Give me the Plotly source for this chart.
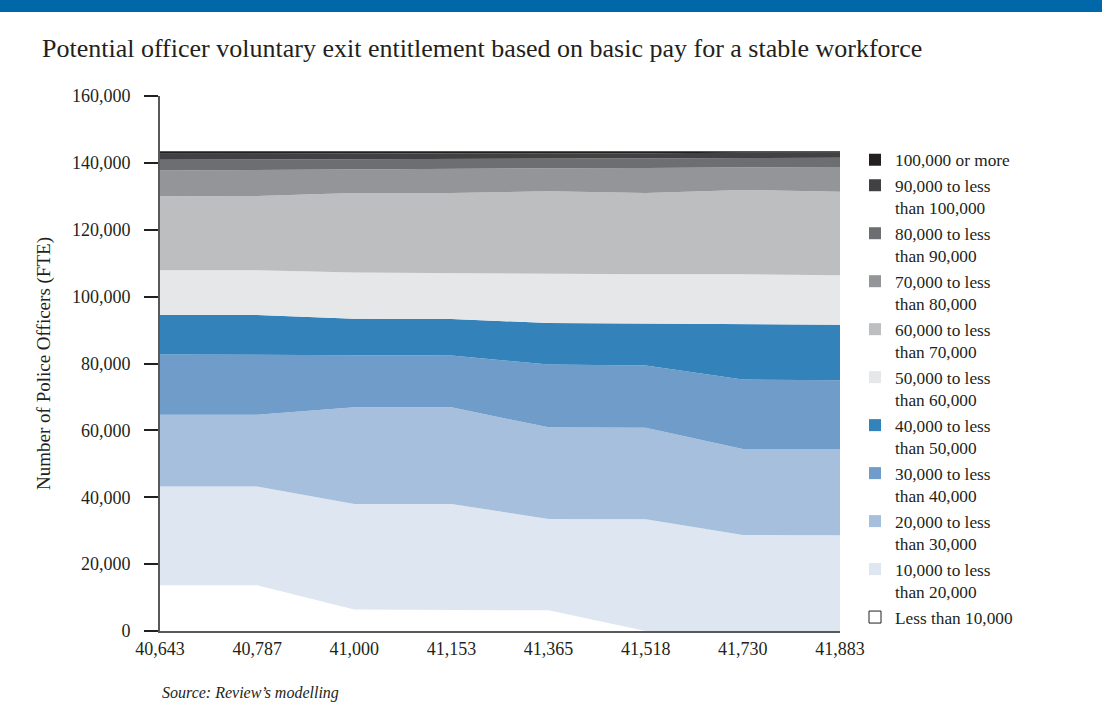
import plotly.graph_objects as go

# Potential officer voluntary exit entitlement (stacked, number of officers FTE)
workforce = ["40,643", "40,787", "41,000", "41,153", "41,365", "41,518", "41,730", "41,883"]

band_names = [
    "Less than 10,000",
    "10,000 to less<br>than 20,000",
    "20,000 to less<br>than 30,000",
    "30,000 to less<br>than 40,000",
    "40,000 to less<br>than 50,000",
    "50,000 to less<br>than 60,000",
    "60,000 to less<br>than 70,000",
    "70,000 to less<br>than 80,000",
    "80,000 to less<br>than 90,000",
    "90,000 to less<br>than 100,000",
    "100,000 or more",
]

lt_10k = [13700, 13700, 6400, 6400, 6200, 0, 0, 0]
k10_20 = [29500, 29500, 31600, 31600, 27300, 33400, 28700, 28600]
k20_30 = [21500, 21500, 28900, 28900, 27400, 27400, 25700, 25800]
k30_40 = [18000, 18000, 15600, 15500, 18800, 18600, 20800, 20600]
k40_50 = [11800, 11800, 10900, 10900, 12400, 12500, 16500, 16600]
k50_60 = [13400, 13400, 13800, 13700, 14600, 14800, 15000, 14800]
k60_70 = [22100, 22200, 23800, 24000, 24800, 24300, 25200, 25000]
k70_80 = [7700, 7800, 7200, 7200, 6900, 7500, 6700, 7400]
k80_90 = [3200, 3100, 2900, 3000, 3000, 3000, 3000, 2700]
k90_100 = [1800, 1700, 1700, 1600, 1500, 1400, 1400, 1500]
k100_plus = [800, 800, 700, 700, 600, 600, 500, 500]

series = [lt_10k, k10_20, k20_30, k30_40, k40_50, k50_60,
          k60_70, k70_80, k80_90, k90_100, k100_plus]

colors = ["#ffffff", "#dee6f1", "#a5bfdd", "#6f9cc9", "#3482ba", "#e6e7e8",
          "#bcbec0", "#939598", "#6d6e71", "#414042", "#231f20"]

x_pos = list(range(len(workforce)))
serif = "Liberation Serif, Times New Roman, serif"
txt = "#231f20"

fig = go.Figure()

for name, vals, col in zip(band_names, series, colors):
    fig.add_trace(go.Scatter(
        x=x_pos, y=vals, name=name, stackgroup="one", mode="lines",
        line=dict(width=0, color=col), fillcolor=col, showlegend=False,
        hoverinfo="skip"
    ))

# legend entries as small squares
for name, col in zip(band_names, colors):
    fig.add_trace(go.Scatter(
        x=[None], y=[None], name=name, mode="markers",
        marker=dict(symbol="square", size=12, color=col,
                    line=dict(width=1 if col == "#ffffff" else 0, color=txt)),
        hoverinfo="skip"
    ))

# top blue band
pw, ph = 680, 535
fig.add_shape(type="rect", xref="paper", yref="paper",
              x0=-160 / pw, x1=(1102 - 160) / pw,
              y0=(631 - 12) / ph, y1=631 / ph,
              fillcolor="#0067a8", line_width=0, layer="above")

fig.add_annotation(
    xref="paper", yref="paper", x=(40 - 160) / pw, y=(631 - 48) / ph,
    text="Potential officer voluntary exit entitlement based on basic pay for a stable workforce",
    showarrow=False, xanchor="left", yanchor="middle",
    font=dict(family=serif, size=26, color=txt)
)

fig.add_annotation(
    xref="paper", yref="paper", x=0, y=(631 - 693) / ph,
    text="<i>Source: Review\u2019s modelling</i>",
    showarrow=False, xanchor="left", yanchor="middle",
    font=dict(family=serif, size=16, color=txt)
)

fig.update_layout(
    width=1102, height=724,
    margin=dict(l=160, r=262, t=96, b=93, autoexpand=False),
    paper_bgcolor="white", plot_bgcolor="white",
    hovermode=False,
    font=dict(family=serif, size=17, color=txt),
    legend=dict(
        x=(855 - 160) / pw, xanchor="left",
        y=(631 - 142) / ph, yanchor="top",
        traceorder="reversed", valign="top",
        font=dict(family=serif, size=17.3, color=txt),
        bgcolor="rgba(0,0,0,0)",
        itemclick=False, itemdoubleclick=False,
    ),
)

fig.update_xaxes(
    range=[0, len(workforce) - 1],
    tickvals=x_pos, ticktext=workforce,
    showgrid=False, zeroline=False,
    showline=True, linecolor="#58595b", linewidth=2,
    ticks="", tickfont=dict(family=serif, size=18, color=txt),
)

fig.update_yaxes(
    range=[0, 160000],
    tickvals=list(range(0, 160001, 20000)), tickformat=",",
    showgrid=False, zeroline=False,
    showline=True, linecolor="#58595b", linewidth=2,
    ticks="outside", ticklen=14, tickwidth=1.5, tickcolor=txt,
    ticklabelstandoff=10,
    tickfont=dict(family=serif, size=18, color=txt),
    title=dict(text="Number of Police Officers (FTE)",
               font=dict(family=serif, size=19, color=txt), standoff=16),
)

fig.write_html("out.html", config={"displayModeBar": False},
               post_script="document.body.style.margin='0px';")
